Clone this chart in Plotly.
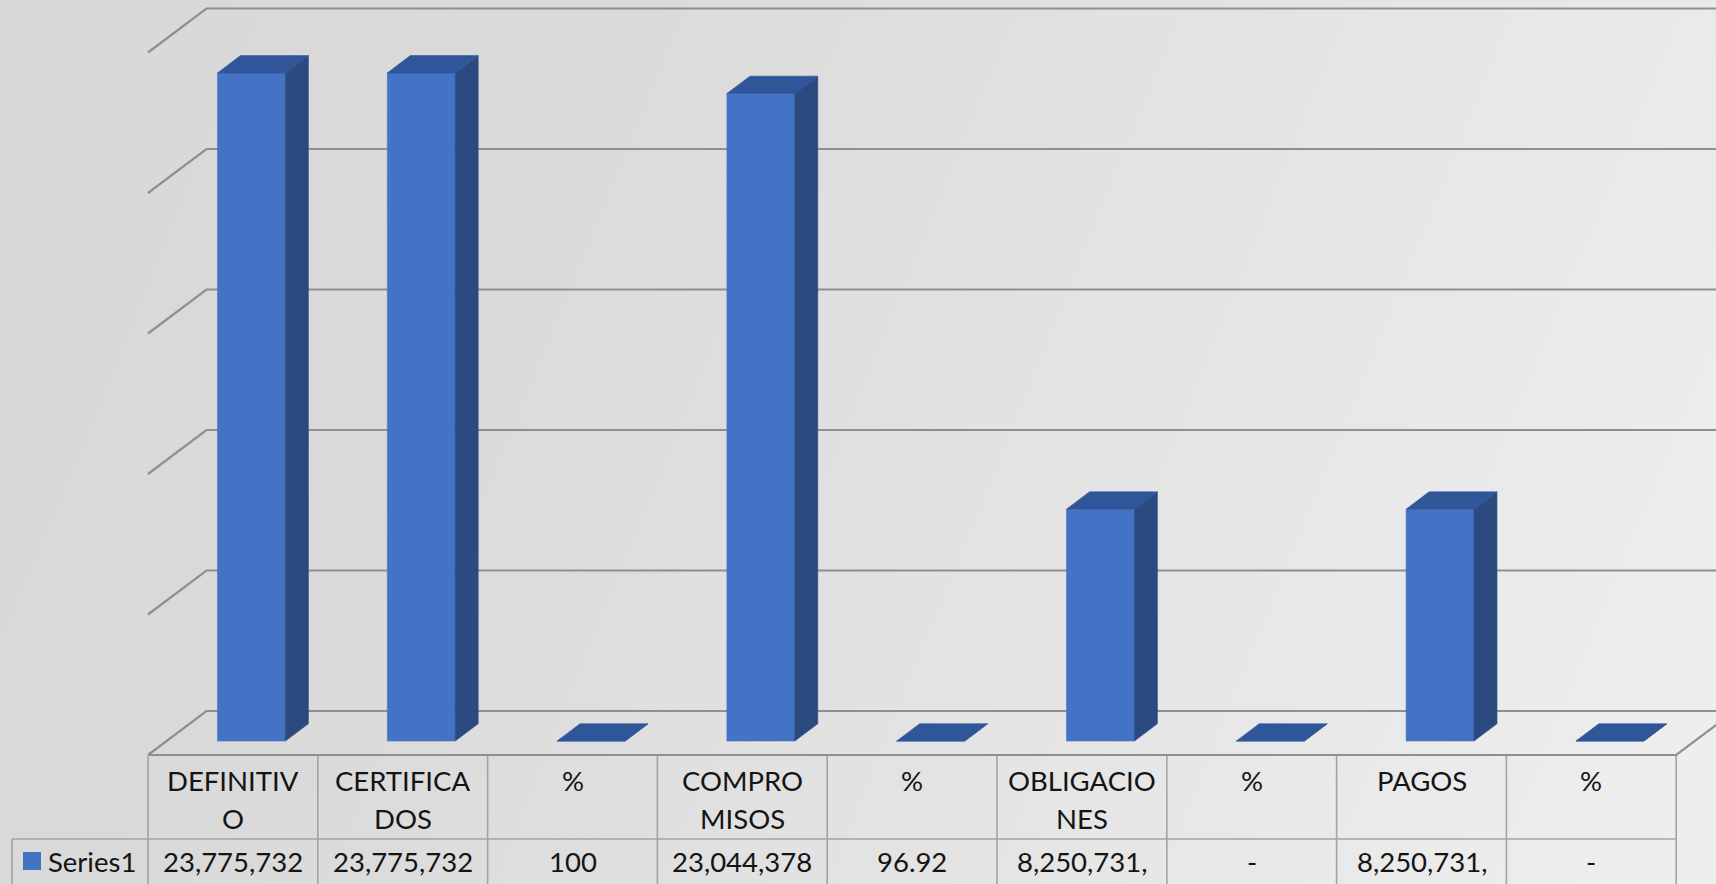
import base64
import plotly.graph_objects as go

# ---------------- data ----------------
categories = ["DEFINITIVO", "CERTIFICADOS", "%", "COMPROMISOS", "%",
              "OBLIGACIONES", "%", "PAGOS", "%"]
header_line1 = ["DEFINITIV", "CERTIFICA", "%", "COMPRO", "%", "OBLIGACIO", "%", "PAGOS", "%"]
header_line2 = ["O", "DOS", "", "MISOS", "", "NES", "", "", ""]
values = [23775732, 23775732, 100, 23044378, 96.92, 8250731, 0, 8250731, 0]
value_labels = ["23,775,732", "23,775,732", "100", "23,044,378", "96.92",
                "8,250,731,", "-", "8,250,731,", "-"]
series_name = "Series1"
y_ticks = [0, 5000000, 10000000, 15000000, 20000000, 25000000]

# ---------------- geometry / style ----------------
W, H = 1716, 884
PX_CAT = 169.8          # px per category
X0_PX = 232.9           # px of category 0 centre on floor front edge
PX_VAL = 28.1 / 1e6     # px per value unit
Y0_PX = 755.0           # px of value 0 on floor front edge
DX = 58.4 / PX_CAT      # depth shift (category units) for full depth
DY = 44.0 / PX_VAL      # depth shift (value units) for full depth
HALF_W = 0.2
D_FRONT, D_BACK = 0.318, 0.711

FRONT = "#4472C4"
SIDE = "#2A4A80"
TOP = "#30569A"
GRID = "#8f8f8f"
TABLE = "#a3a3a3"
FONT = "Lato"
TEXT = "#141414"
FS = 27.5

x_range = [(0 - X0_PX) / PX_CAT, (W - X0_PX) / PX_CAT]
y_range = [(Y0_PX - H) / PX_VAL, (Y0_PX - 0) / PX_VAL]


def proj(x, v, d):
    return x + DX * d, v + DY * d


def ypaper(px):
    return 1 - px / H


def xpaper(px):
    return px / W


fig = go.Figure()

# bar faces
faces = {"front": ([], []), "side": ([], []), "top": ([], [])}
for i, v in enumerate(values):
    l, r = i - HALF_W, i + HALF_W
    polys = {
        "front": [(l, 0, D_FRONT), (r, 0, D_FRONT), (r, v, D_FRONT), (l, v, D_FRONT)],
        "side": [(r, 0, D_FRONT), (r, 0, D_BACK), (r, v, D_BACK), (r, v, D_FRONT)],
        "top": [(l, v, D_FRONT), (r, v, D_FRONT), (r, v, D_BACK), (l, v, D_BACK)],
    }
    for k, pts in polys.items():
        xs, ys = faces[k]
        for p in pts + [pts[0]]:
            px, py = proj(*p)
            xs.append(px)
            ys.append(py)
        xs.append(None)
        ys.append(None)

for k, col in [("front", FRONT), ("side", SIDE), ("top", TOP)]:
    xs, ys = faces[k]
    fig.add_trace(go.Scatter(x=xs, y=ys, mode="lines", fill="toself",
                             fillcolor=col, line=dict(width=0.6, color=col),
                             hoverinfo="skip", showlegend=False))

shapes = []
n = len(categories)
left = -0.5
right = n - 0.5
# gridlines: left wall diagonal + back wall horizontal
for t in y_ticks:
    x_a, y_a = proj(left, t, 0)
    x_b, y_b = proj(left, t, 1)
    x_c, y_c = proj(right + 1, t, 1)
    shapes.append(dict(type="path", xref="x", yref="y", layer="below",
                       path=f"M {x_a},{y_a} L {x_b},{y_b} L {x_c},{y_c}",
                       line=dict(color=GRID, width=2.2)))
# floor front edge and right edge
x_a, y_a = proj(left, 0, 0)
x_b, y_b = proj(right, 0, 0)
x_c, y_c = proj(right, 0, 1)
shapes.append(dict(type="path", xref="x", yref="y", layer="below",
                   path=f"M {x_a},{y_a} L {x_b},{y_b} L {x_c},{y_c}",
                   line=dict(color=GRID, width=2.2)))

# data table lines
row_sep = ypaper(839)
for i in range(n + 1):
    shapes.append(dict(type="line", xref="x", yref="paper", x0=left + i, x1=left + i,
                       y0=ypaper(756), y1=0, line=dict(color=TABLE, width=1.6)))
shapes.append(dict(type="line", xref="paper", yref="paper", x0=xpaper(12), x1=xpaper(12),
                   y0=row_sep, y1=0, line=dict(color=TABLE, width=1.6)))
shapes.append(dict(type="line", xref="paper", yref="paper", x0=xpaper(12),
                   x1=(right - x_range[0]) / (x_range[1] - x_range[0]),
                   y0=row_sep, y1=row_sep, line=dict(color=TABLE, width=1.6)))
# legend key
shapes.append(dict(type="rect", xref="paper", yref="paper", x0=xpaper(23), x1=xpaper(41),
                   y0=ypaper(870), y1=ypaper(852), fillcolor=FRONT, line=dict(width=0)))

annotations = []
for i in range(n):
    annotations.append(dict(x=i, y=ypaper(780), xref="x", yref="paper", text=header_line1[i],
                            showarrow=False, xanchor="center", yanchor="middle",
                            font=dict(family=FONT, size=FS, color=TEXT)))
    if header_line2[i]:
        annotations.append(dict(x=i, y=ypaper(818), xref="x", yref="paper", text=header_line2[i],
                                showarrow=False, xanchor="center", yanchor="middle",
                                font=dict(family=FONT, size=FS, color=TEXT)))
    annotations.append(dict(x=i, y=ypaper(861), xref="x", yref="paper", text=value_labels[i],
                            showarrow=False, xanchor="center", yanchor="middle",
                            font=dict(family=FONT, size=FS, color=TEXT)))
annotations.append(dict(x=xpaper(46), y=ypaper(861), xref="paper", yref="paper", text=series_name,
                        showarrow=False, xanchor="left", yanchor="middle",
                        font=dict(family=FONT, size=FS, color=TEXT)))

svg = (f'<svg xmlns="http://www.w3.org/2000/svg" width="{W}" height="{H}">'
       f'<defs><linearGradient id="g" gradientUnits="userSpaceOnUse" x1="0" y1="0" x2="{W}" y2="700">'
       f'<stop offset="0" stop-color="#d8d8d8"/><stop offset="0.3" stop-color="#dadada"/>'
       f'<stop offset="1" stop-color="#eeeeee"/></linearGradient></defs>'
       f'<rect width="{W}" height="{H}" fill="url(#g)"/></svg>')
src = "data:image/svg+xml;base64," + base64.b64encode(svg.encode()).decode()

fig.update_layout(
    width=W, height=H, margin=dict(l=0, r=0, t=0, b=0),
    paper_bgcolor="#e0e0e0", plot_bgcolor="rgba(0,0,0,0)",
    xaxis=dict(range=x_range, visible=False, fixedrange=True),
    yaxis=dict(range=y_range, visible=False, fixedrange=True),
    shapes=shapes, annotations=annotations, showlegend=False,
    images=[dict(source=src, xref="paper", yref="paper", x=0, y=1, sizex=1, sizey=1,
                 sizing="stretch", xanchor="left", yanchor="top", layer="below")],
)

fig.write_html("out.html", config={"displayModeBar": False},
               post_script="document.body.style.margin='0';document.body.style.overflow='hidden';")
